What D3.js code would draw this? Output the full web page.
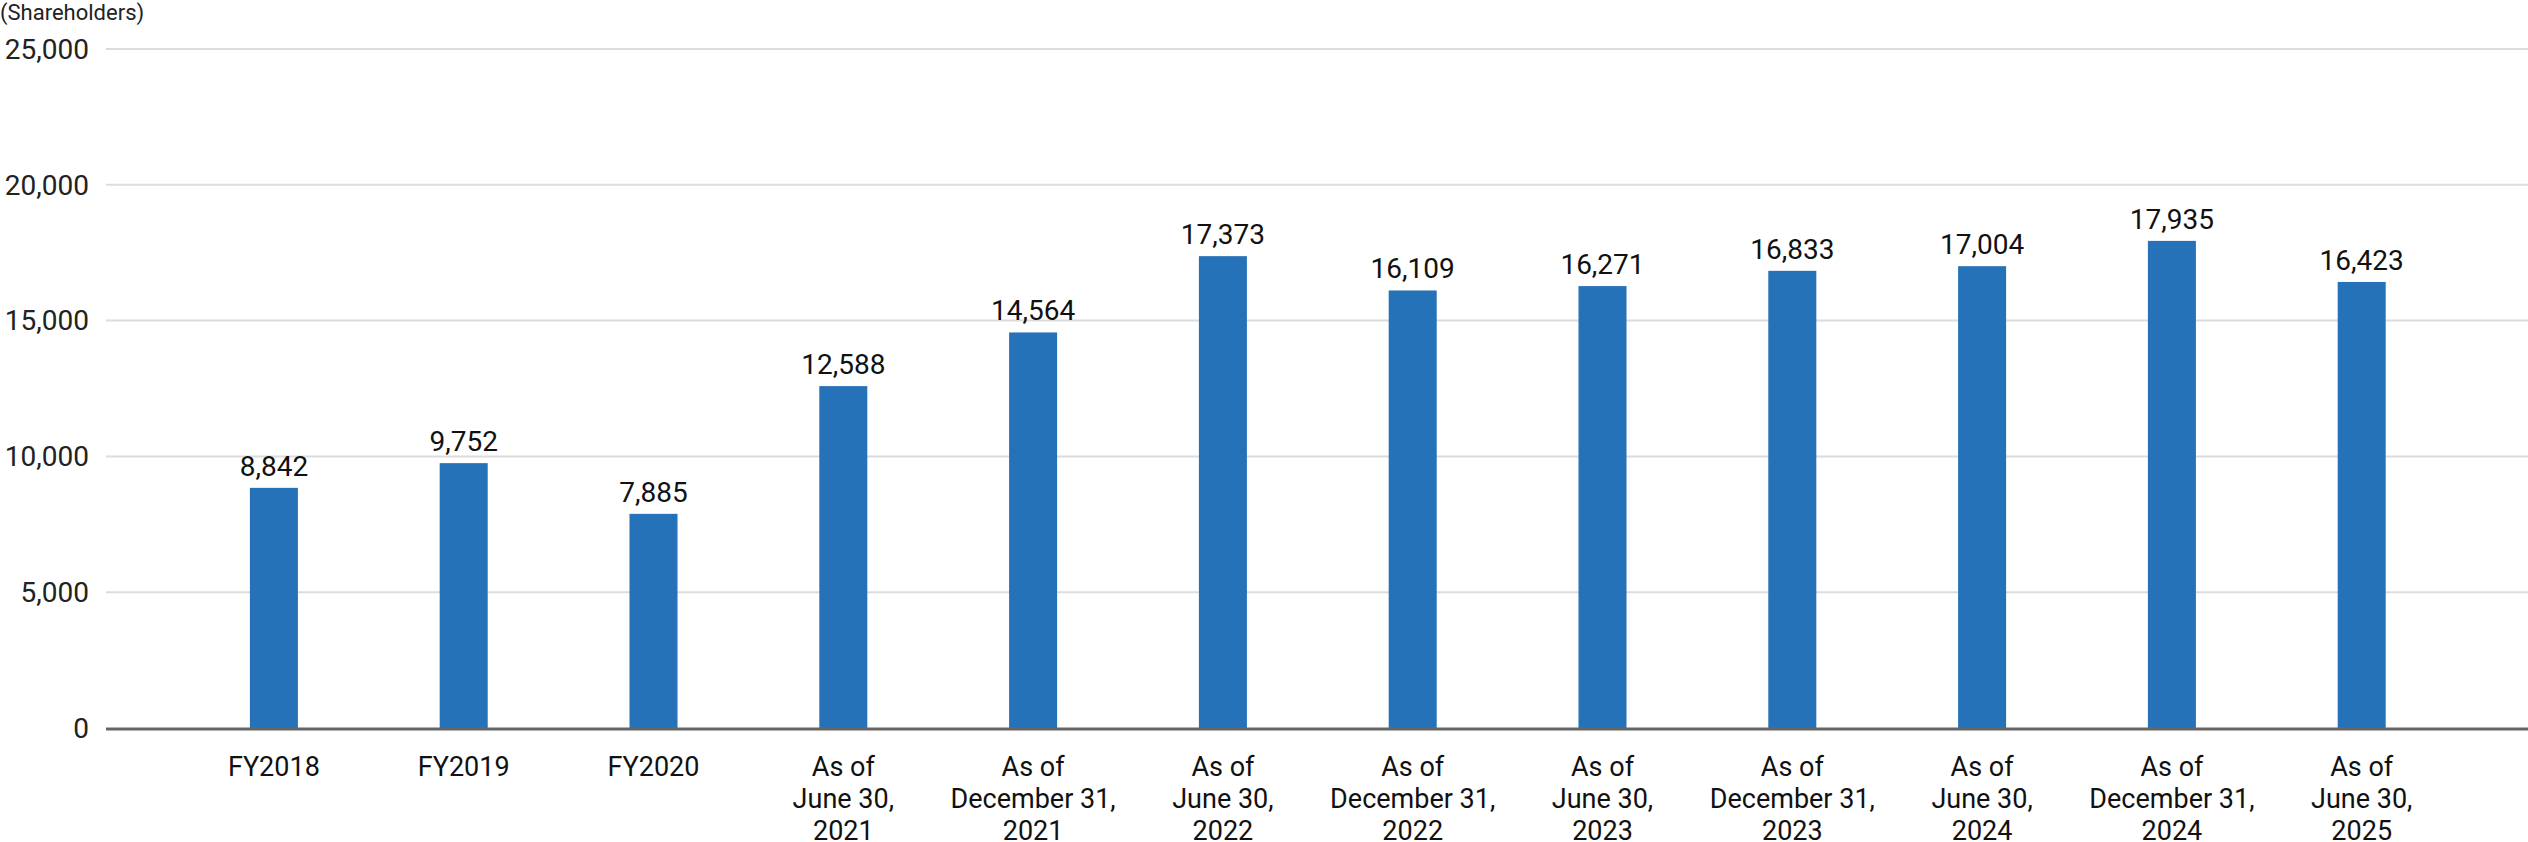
<!DOCTYPE html>
<html lang="en">
<head>
<meta charset="UTF-8">
<style>
  body { margin: 0; background: #fff; }
  svg { display: block; font-family: Roboto, sans-serif; }
</style>
<script src="https://d3js.org/d3.v7.min.js"></script>
</head>
<body>
<div id="graph"></div>
<script>
  const categories = [
    ["FY2018"], ["FY2019"], ["FY2020"],
    ["As of", "June 30,", "2021"], ["As of", "December 31,", "2021"],
    ["As of", "June 30,", "2022"], ["As of", "December 31,", "2022"],
    ["As of", "June 30,", "2023"], ["As of", "December 31,", "2023"],
    ["As of", "June 30,", "2024"], ["As of", "December 31,", "2024"],
    ["As of", "June 30,", "2025"]
  ];
  const shareholders = [8842, 9752, 7885, 12588, 14564, 17373, 16109, 16271, 16833, 17004, 17935, 16423];
  const yTicks = [0, 5000, 10000, 15000, 20000, 25000];

  const width = 2528, height = 842;
  const gridLeft = 106, gridRight = 2528;
  const y0 = 728, yTop = 49;

  const svg = d3.select("#graph").append("svg")
      .attr("width", width).attr("height", height);

  const x = d3.scaleBand()
      .domain(d3.range(categories.length))
      .range([179, 179 + 12 * 189.8])
      .paddingInner(0.747).paddingOuter(0.3735);

  const y = d3.scaleLinear().domain([0, 25000]).range([y0, yTop]);

  // gridlines
  svg.append("g").selectAll("line")
    .data(yTicks.filter(d => d > 0))
    .enter().append("line")
      .attr("x1", gridLeft).attr("x2", gridRight)
      .attr("y1", d => y(d)).attr("y2", d => y(d))
      .attr("stroke", "#dcdcdc").attr("stroke-width", 2);

  // y tick labels
  svg.append("g").selectAll("text")
    .data(yTicks)
    .enter().append("text")
      .attr("x", 89).attr("y", d => y(d))
      .attr("dy", "0.35em")
      .attr("text-anchor", "end")
      .attr("font-size", 28).attr("fill", "#222")
      .text(d => d3.format(",")(d));

  svg.append("text")
    .attr("x", 0).attr("y", 20)
    .attr("font-size", 22).attr("fill", "#222")
    .text("(Shareholders)");

  // bars
  svg.append("g").selectAll("rect")
    .data(shareholders)
    .enter().append("rect")
      .attr("x", (d, i) => x(i))
      .attr("width", x.bandwidth())
      .attr("y", d => y(d))
      .attr("height", d => y0 - y(d))
      .attr("fill", "#2672b8");

  // value labels
  svg.append("g").selectAll("text")
    .data(shareholders)
    .enter().append("text")
      .attr("x", (d, i) => x(i) + x.bandwidth() / 2)
      .attr("y", d => y(d) - 12)
      .attr("text-anchor", "middle")
      .attr("font-size", 28).attr("fill", "#111")
      .text(d => d3.format(",")(d));

  // baseline
  svg.append("line")
    .attr("x1", gridLeft).attr("x2", gridRight)
    .attr("y1", y0 + 1).attr("y2", y0 + 1)
    .attr("stroke", "#666").attr("stroke-width", 3);

  // category labels
  const cat = svg.append("g").selectAll("text")
    .data(categories)
    .enter().append("text")
      .attr("text-anchor", "middle")
      .attr("font-size", 27).attr("fill", "#111")
      .attr("transform", (d, i) => `translate(${x(i) + x.bandwidth() / 2}, 776)`);
  cat.selectAll("tspan")
    .data(d => d)
    .enter().append("tspan")
      .attr("x", 0)
      .attr("y", (d, j) => j * 32)
      .text(d => d);
</script>
</body>
</html>
